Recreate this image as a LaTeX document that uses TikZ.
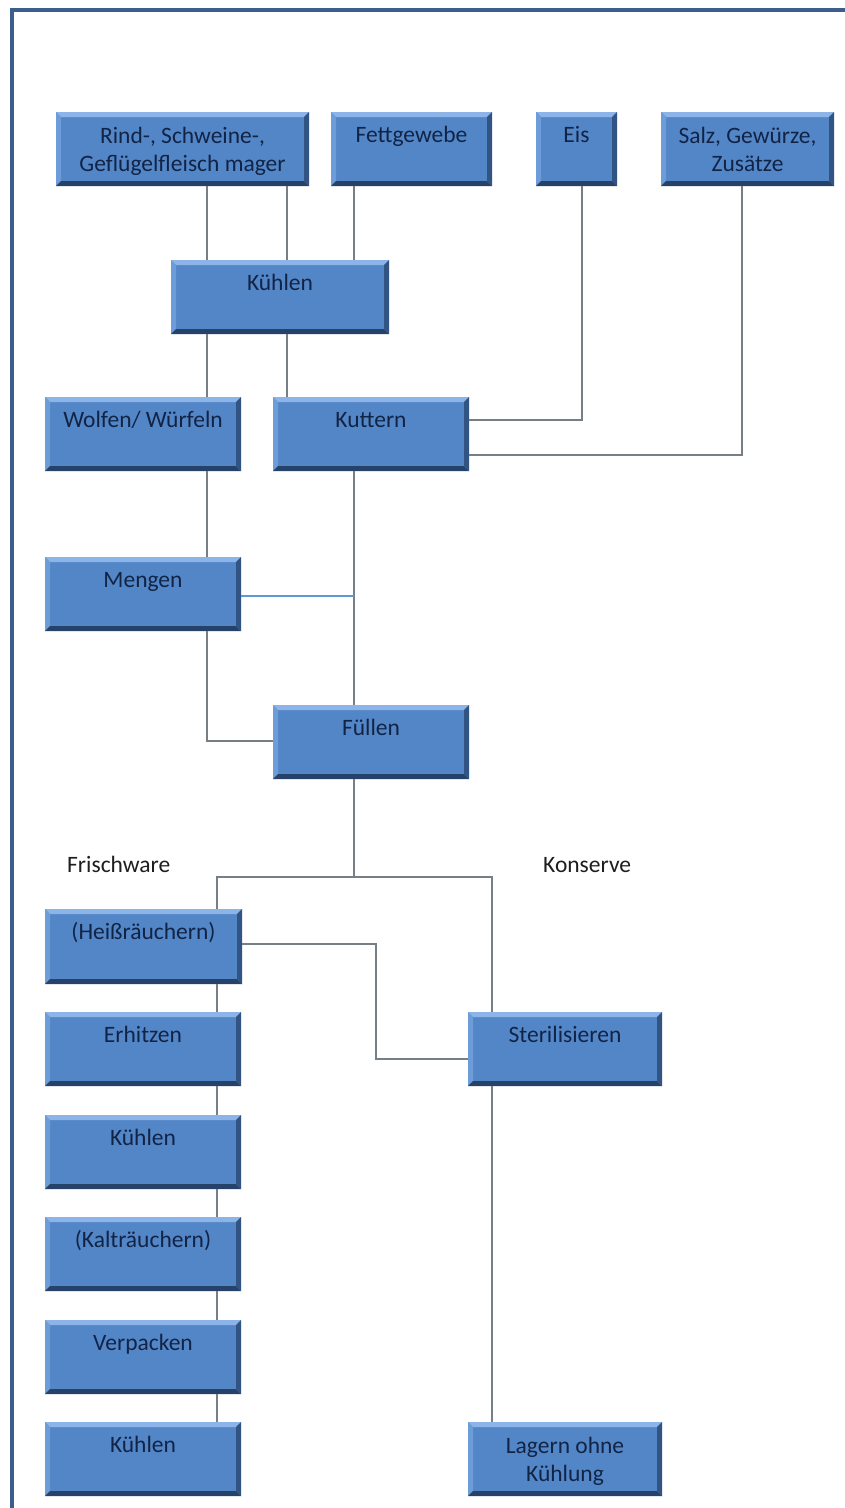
\documentclass[tikz,border=0pt]{standalone}
\usepackage{fontspec}
\setmainfont{Carlito}
\definecolor{boxfill}{RGB}{83,134,199}
\definecolor{bevlight}{RGB}{140,180,232}
\definecolor{bevleft}{RGB}{108,157,216}
\definecolor{bevdark}{RGB}{38,66,104}
\definecolor{bevright}{RGB}{50,84,130}
\definecolor{boxtext}{RGB}{18,36,70}
\definecolor{framecol}{RGB}{59,94,140}
\definecolor{conncol}{RGB}{118,126,134}
\definecolor{connblue}{RGB}{91,155,213}
\definecolor{plaintext}{RGB}{30,30,30}
\tikzset{
  boxnode/.style={rectangle, inner sep=0pt, fill=boxfill,
    path picture={
      \fill[bevlight] (path picture bounding box.north west) -- (path picture bounding box.north east)
        -- ([xshift=-5pt,yshift=-5pt]path picture bounding box.north east)
        -- ([xshift=5pt,yshift=-5pt]path picture bounding box.north west) -- cycle;
      \fill[bevleft] (path picture bounding box.north west) -- ([xshift=5pt,yshift=-5pt]path picture bounding box.north west)
        -- ([xshift=5pt,yshift=5pt]path picture bounding box.south west)
        -- (path picture bounding box.south west) -- cycle;
      \fill[bevdark] (path picture bounding box.south west) -- (path picture bounding box.south east)
        -- ([xshift=-5pt,yshift=5pt]path picture bounding box.south east)
        -- ([xshift=5pt,yshift=5pt]path picture bounding box.south west) -- cycle;
      \fill[bevright] (path picture bounding box.north east) -- (path picture bounding box.south east)
        -- ([xshift=-5pt,yshift=5pt]path picture bounding box.south east)
        -- ([xshift=-5pt,yshift=-5pt]path picture bounding box.north east) -- cycle;
    }},
  boxlabel/.style={inner sep=0pt, text=boxtext, font=\fontsize{23.5}{28}\selectfont, align=center},
  oneline/.style={anchor=base, yshift=-31pt},
  twoline/.style={anchor=north, yshift=-15pt},
  plainlabel/.style={inner sep=0pt, text=plaintext, font=\fontsize{23.5}{28}\selectfont},
  conn/.style={draw=conncol, line width=1.1pt},
  connb/.style={draw=connblue, line width=1.6pt},
}
\newcommand{\flowbox}[7]{%
  \node[boxnode, minimum width={#4-#2}, minimum height={#5-#3}] (#1) at ({(#2+#4)/2},{(#3+#5)/2}) {};
  \node[boxlabel, #7] (#1-t) at (#1.north) {#6};
}
\begin{document}
\begin{tikzpicture}[x=1pt,y=-1pt]
\useasboundingbox (0,0) rectangle (844,1508);
\fill[white] (0,0) rectangle (844,1508);
\draw[framecol, line width=4pt] (850,10) -- (12,10) -- (12,1515);

\flowbox{rind}{56}{112}{309}{186}{Rind-, Schweine-,\\Geflügelfleisch mager}{twoline}
\flowbox{fett}{331}{112}{492}{186}{Fettgewebe}{oneline}
\flowbox{eis}{536}{112}{617}{186}{Eis}{oneline}
\flowbox{salz}{661}{112}{834}{186}{Salz, Gewürze,\\Zusätze}{twoline}
\flowbox{kuehlA}{171}{260}{389}{334}{Kühlen}{oneline}
\flowbox{wolf}{45}{397}{241}{471}{Wolfen/ Würfeln}{oneline}
\flowbox{kutt}{273}{397}{469}{471}{Kuttern}{oneline}
\flowbox{meng}{45}{557}{241}{631}{Mengen}{oneline}
\flowbox{fuell}{273}{705}{469}{779}{Füllen}{oneline}
\flowbox{heiss}{45}{909}{242}{984}{(Heißräuchern)}{oneline}
\flowbox{erh}{45}{1012}{241}{1086}{Erhitzen}{oneline}
\flowbox{kuehlB}{45}{1115}{241}{1189}{Kühlen}{oneline}
\flowbox{kalt}{45}{1217}{241}{1291}{(Kalträuchern)}{oneline}
\flowbox{verp}{45}{1320}{241}{1394}{Verpacken}{oneline}
\flowbox{kuehlC}{45}{1422}{241}{1496}{Kühlen}{oneline}
\flowbox{ster}{468}{1012}{662}{1086}{Sterilisieren}{oneline}
\flowbox{lag}{468}{1422}{662}{1496}{Lagern ohne\\Kühlung}{twoline}

\node[plainlabel, anchor=base west] (frisch) at (67,872) {Frischware};
\node[plainlabel, anchor=base west] (kons) at (543,872) {Konserve};

\draw[conn] (rind.south -| 207,0) -- (kuehlA.north -| 207,0);
\draw[conn] (rind.south -| 287,0) -- (kuehlA.north -| 287,0);
\draw[conn] (fett.south -| 354,0) -- (kuehlA.north -| 354,0);
\draw[conn] (kuehlA.south -| 207,0) -- (wolf.north -| 207,0);
\draw[conn] (kuehlA.south -| 287,0) -- (kutt.north -| 287,0);
\draw[conn] (eis.south -| 582,0) |- (kutt.east |- 0,420);
\draw[conn] (salz.south -| 742,0) |- (kutt.east |- 0,455);
\draw[conn] (wolf.south -| 207,0) -- (meng.north -| 207,0);
\draw[conn] (kutt.south -| 354,0) -- (fuell.north -| 354,0);
\draw[connb] (meng.east |- 0,596) -- (354,596);
\draw[conn] (meng.south -| 207,0) |- (fuell.west |- 0,741);
\draw[conn] (fuell.south -| 354,0) -- (354,877);
\draw[conn] (heiss.north -| 217,0) |- (492,877) -- (ster.north -| 492,0);
\draw[conn] (heiss.east |- 0,944) -| (376,1059) -- (ster.west |- 0,1059);
\draw[conn] (heiss.south -| 217,0) -- (erh.north -| 217,0);
\draw[conn] (erh.south -| 217,0) -- (kuehlB.north -| 217,0);
\draw[conn] (kuehlB.south -| 217,0) -- (kalt.north -| 217,0);
\draw[conn] (kalt.south -| 217,0) -- (verp.north -| 217,0);
\draw[conn] (verp.south -| 217,0) -- (kuehlC.north -| 217,0);
\draw[conn] (ster.south -| 492,0) -- (lag.north -| 492,0);
\end{tikzpicture}
\end{document}
